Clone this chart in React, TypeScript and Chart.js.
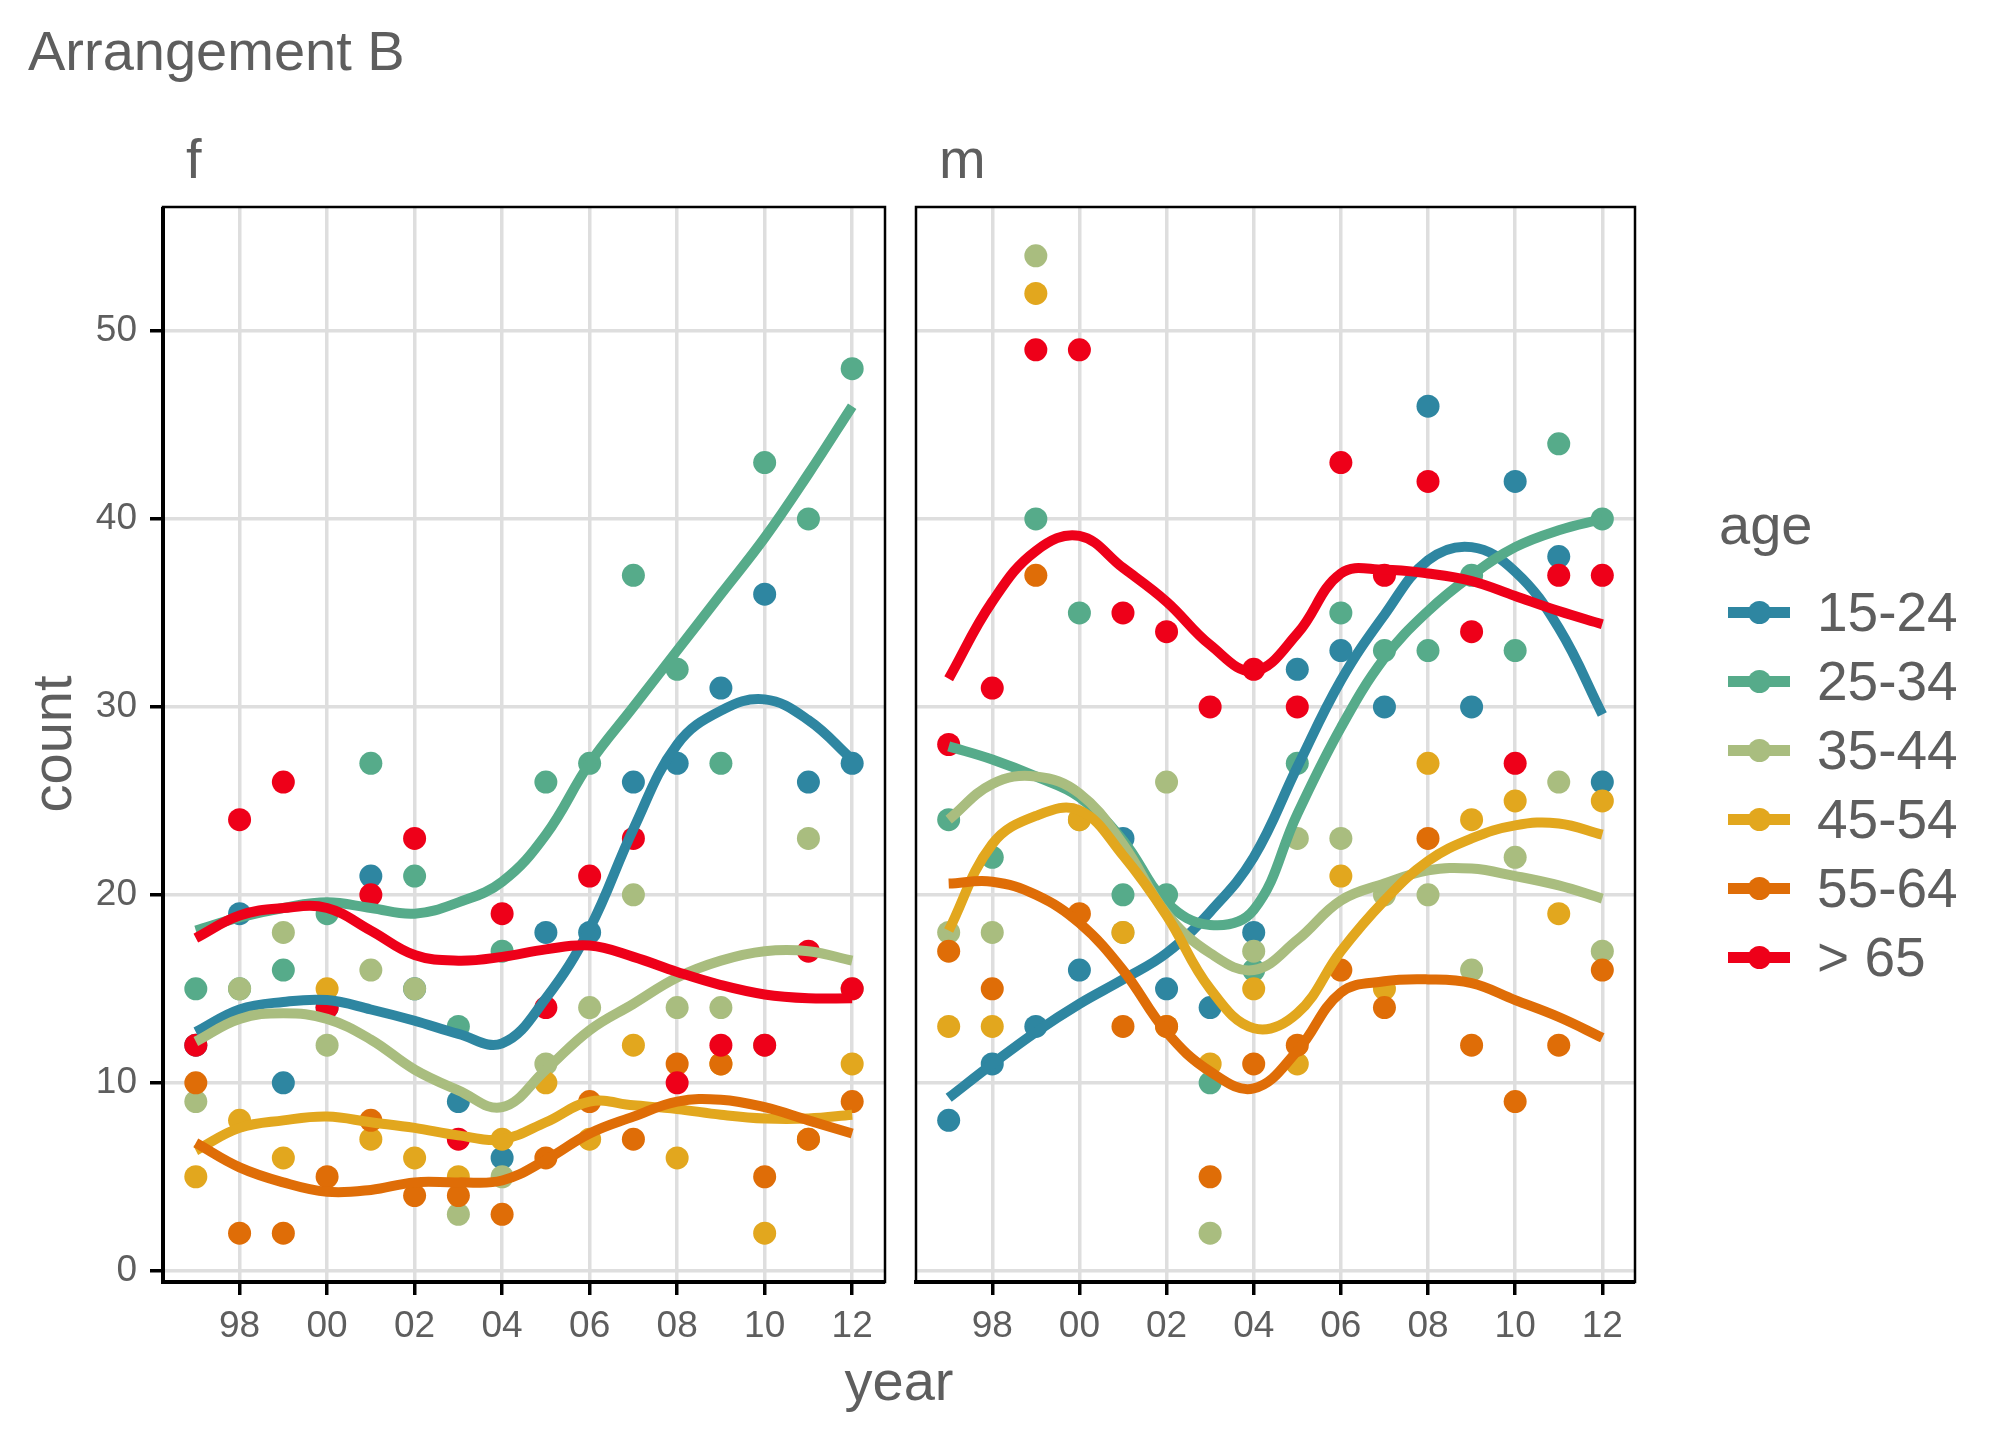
import React, { useEffect, useRef } from 'react';
import Chart from 'chart.js/auto';

// ---- data ----
const YEARS = [1997, 1998, 1999, 2000, 2001, 2002, 2003, 2004, 2005, 2006, 2007, 2008, 2009, 2010, 2011, 2012];
const X_TICKS = [1998, 2000, 2002, 2004, 2006, 2008, 2010, 2012];
const X_TICK_LABELS = ['98', '00', '02', '04', '06', '08', '10', '12'];
const Y_TICKS = [0, 10, 20, 30, 40, 50];
const AGE_GROUPS = ['15-24', '25-34', '35-44', '45-54', '55-64', '> 65'];
const COLORS = ['#2E86A1', '#56AB8A', '#A9BD7F', '#E2A71E', '#DF6D07', '#EE0019'];

// panel "f": observed counts
const F_15_24 = [12, 19, 10, 14, 21, 15, 9, 6, 18, 18, 26, 27, 31, 36, 26, 27];
const F_25_34 = [15, 15, 16, 19, 27, 21, 13, 17, 26, 27, 37, 32, 27, 43, 40, 48];
const F_35_44 = [9, 15, 18, 12, 16, 15, 3, 5, 11, 14, 20, 14, 14, 12, 23, 15];
const F_45_54 = [5, 8, 6, 15, 7, 6, 5, 7, 10, 7, 12, 6, 11, 2, 7, 11];
const F_55_64 = [10, 2, 2, 5, 8, 4, 4, 3, 6, 9, 7, 11, 11, 5, 7, 9];
const F_65 = [12, 24, 26, 14, 20, 23, 7, 19, 14, 21, 23, 10, 12, 12, 17, 15];

// panel "f": smoothed curves
const F_FIT_15_24 = [12.7, 13.9, 14.3, 14.4, 13.9, 13.3, 12.6, 12.1, 14.5, 18.2, 23.5, 28.0, 29.8, 30.4, 29.3, 27.2];
const F_FIT_25_34 = [18.1, 18.8, 19.3, 19.6, 19.3, 19.0, 19.6, 20.7, 23.2, 27.0, 30.0, 33.0, 36.0, 39.0, 42.4, 46.0];
const F_FIT_35_44 = [12.2, 13.4, 13.7, 13.4, 12.3, 10.7, 9.6, 8.7, 10.7, 12.8, 14.2, 15.6, 16.5, 17.0, 17.0, 16.5];
const F_FIT_45_54 = [6.4, 7.6, 8.0, 8.2, 7.9, 7.6, 7.2, 7.0, 7.9, 9.0, 8.8, 8.6, 8.3, 8.1, 8.1, 8.3];
const F_FIT_55_64 = [6.8, 5.5, 4.7, 4.2, 4.3, 4.7, 4.7, 4.8, 5.9, 7.3, 8.2, 9.0, 9.1, 8.7, 8.0, 7.3];
const F_FIT_65 = [17.7, 18.9, 19.3, 19.3, 18.1, 16.8, 16.5, 16.7, 17.1, 17.3, 16.7, 15.9, 15.2, 14.7, 14.5, 14.5];

// panel "m": observed counts
const M_15_24 = [8, 11, 13, 16, 23, 15, 14, 18, 32, 33, 30, 46, 30, 42, 38, 26];
const M_25_34 = [24, 22, 40, 35, 20, 20, 10, 16, 27, 35, 33, 33, 37, 33, 44, 40];
const M_35_44 = [18, 18, 54, 24, 18, 26, 2, 17, 23, 23, 20, 20, 16, 22, 26, 17];
const M_45_54 = [13, 13, 52, 24, 18, 13, 11, 15, 11, 21, 15, 27, 24, 25, 19, 25];
const M_55_64 = [17, 15, 37, 19, 13, 13, 5, 11, 12, 16, 14, 23, 12, 9, 12, 16];
const M_65 = [28, 31, 49, 49, 35, 34, 30, 32, 30, 43, 37, 42, 34, 27, 37, 37];

// panel "m": smoothed curves
const M_FIT_15_24 = [9.2, 11.0, 12.7, 14.2, 15.5, 16.9, 19.1, 22.0, 26.8, 31.4, 34.9, 37.8, 38.5, 37.2, 34.2, 29.6];
const M_FIT_25_34 = [27.9, 27.2, 26.3, 25.2, 22.9, 19.6, 18.4, 19.2, 24.3, 28.9, 32.6, 35.1, 37.0, 38.5, 39.4, 40.0];
const M_FIT_35_44 = [24.0, 25.9, 26.3, 25.4, 22.7, 19.0, 16.9, 16.0, 17.6, 19.7, 20.6, 21.3, 21.4, 21.0, 20.5, 19.8];
const M_FIT_45_54 = [18.1, 22.7, 24.2, 24.5, 22.1, 18.9, 15.0, 12.9, 13.7, 17.0, 19.7, 21.8, 23.0, 23.7, 23.8, 23.2];
const M_FIT_55_64 = [20.6, 20.7, 20.0, 18.5, 16.0, 12.7, 10.6, 9.7, 11.7, 14.8, 15.4, 15.5, 15.3, 14.4, 13.5, 12.4];
const M_FIT_65 = [31.5, 35.6, 38.3, 39.1, 37.4, 35.6, 33.3, 31.9, 33.9, 37.1, 37.3, 37.1, 36.7, 35.9, 35.1, 34.4];

const FONT = '"Liberation Sans", Arial, Helvetica, sans-serif';
const TEXT = '#5e5e5e';
const PAGE_H = 1440;

// frame around the panel: thin border, heavier axis lines
const framePlugin = (leftAxis: boolean) => ({
  id: 'panelFrame',
  afterDraw(chart: any) {
    const { ctx, chartArea: a } = chart;
    ctx.save();
    ctx.strokeStyle = '#000';
    ctx.lineWidth = 2.5;
    ctx.strokeRect(a.left, a.top, a.right - a.left, a.bottom - a.top);
    ctx.lineWidth = 4;
    ctx.beginPath();
    ctx.moveTo(a.left - 2, a.bottom);
    ctx.lineTo(a.right, a.bottom);
    if (leftAxis) {
      ctx.moveTo(a.left, a.top);
      ctx.lineTo(a.left, a.bottom + 2);
    }
    ctx.stroke();
    ctx.restore();
  },
});

interface PanelProps {
  points: number[][];
  fits: number[][];
  left: number;
  width: number;
  axisWidth: number; // space left of the plot area inside the canvas
  padRight: number;
  showYLabels: boolean;
}

const Panel: React.FC<PanelProps> = ({ points, fits, left, width, axisWidth, padRight, showYLabels }) => {
  const canvasRef = useRef<HTMLCanvasElement>(null);

  useEffect(() => {
    if (!canvasRef.current) return;
    const datasets: any[] = [];
    // smooth lines on top of the points, later age groups on top
    fits.forEach((fit, g) => {
      datasets.push({
        label: AGE_GROUPS[g] + ' smooth',
        data: YEARS.map((x, i) => ({ x, y: fit[i] })),
        showLine: true,
        borderColor: COLORS[g],
        backgroundColor: COLORS[g],
        borderWidth: 10,
        pointRadius: 0,
        tension: 0.4,
        fill: false,
        order: 5 - g,
      });
    });
    points.forEach((vals, g) => {
      datasets.push({
        label: AGE_GROUPS[g],
        data: YEARS.map((x, i) => ({ x, y: vals[i] })),
        showLine: false,
        backgroundColor: COLORS[g],
        borderWidth: 0,
        pointRadius: 11.5,
        order: 11 - g,
      });
    });

    const chart = new Chart(canvasRef.current, {
      type: 'scatter',
      data: { datasets },
      options: {
        animation: false,
        responsive: false,
        maintainAspectRatio: false,
        events: [],
        layout: { padding: { top: 207, right: padRight, bottom: 0, left: 0 } },
        plugins: {
          legend: { display: false },
          tooltip: { enabled: false },
          title: { display: false },
        },
        scales: {
          x: {
            type: 'linear',
            min: 1996.25,
            max: 2012.75,
            afterBuildTicks: (s: any) => {
              s.ticks = X_TICKS.map((v) => ({ value: v }));
            },
            afterFit: (s: any) => {
              s.height = PAGE_H - 1282;
            },
            ticks: {
              autoSkip: false,
              maxRotation: 0,
              padding: 10,
              color: TEXT,
              font: { family: FONT, size: 37 },
              callback: (v: any) => X_TICK_LABELS[X_TICKS.indexOf(Number(v))],
            },
            grid: {
              color: '#DEDEDE',
              lineWidth: 3.5,
              drawTicks: true,
              tickLength: 13,
              tickColor: '#000',
              tickWidth: 3.5,
            },
            border: { display: false },
          },
          y: {
            type: 'linear',
            min: -0.6,
            max: 56.6,
            afterBuildTicks: (s: any) => {
              s.ticks = Y_TICKS.map((v) => ({ value: v }));
            },
            afterFit: (s: any) => {
              s.width = axisWidth;
            },
            ticks: {
              display: showYLabels,
              padding: 13,
              color: TEXT,
              font: { family: FONT, size: 37 },
            },
            grid: {
              color: '#DEDEDE',
              lineWidth: 3.5,
              drawTicks: showYLabels,
              tickLength: 13,
              tickColor: '#000',
              tickWidth: 3.5,
            },
            border: { display: false },
          },
        },
      },
      plugins: [framePlugin(showYLabels)],
    });

    return () => {
      chart.destroy();
    };
  }, [points, fits, axisWidth, padRight, showYLabels]);

  return (
    <canvas
      ref={canvasRef}
      width={width}
      height={PAGE_H}
      style={{ position: 'absolute', left, top: 0, width, height: PAGE_H }}
    />
  );
};

// place text by its baseline
const Label: React.FC<{ text: string; x: number; baseline: number; size: number; align?: 'left' | 'center' }> = ({
  text,
  x,
  baseline,
  size,
  align = 'left',
}) => (
  <div
    style={{
      position: 'absolute',
      left: align === 'center' ? x - 300 : x,
      width: align === 'center' ? 600 : undefined,
      top: baseline - 0.8465 * size,
      fontSize: size,
      lineHeight: `${size}px`,
      textAlign: align,
      whiteSpace: 'nowrap',
      color: TEXT,
    }}
  >
    {text}
  </div>
);

const LEGEND_ROWS = [612, 681, 750, 819, 888, 957];

const App: React.FC = () => {
  const fPoints = [F_15_24, F_25_34, F_35_44, F_45_54, F_55_64, F_65];
  const fFits = [F_FIT_15_24, F_FIT_25_34, F_FIT_35_44, F_FIT_45_54, F_FIT_55_64, F_FIT_65];
  const mPoints = [M_15_24, M_25_34, M_35_44, M_45_54, M_55_64, M_65];
  const mFits = [M_FIT_15_24, M_FIT_25_34, M_FIT_35_44, M_FIT_45_54, M_FIT_55_64, M_FIT_65];

  return (
    <div
      style={{
        position: 'absolute',
        left: 0,
        top: 0,
        width: 2016,
        height: PAGE_H,
        background: '#fff',
        fontFamily: FONT,
        overflow: 'hidden',
      }}
    >
      <Panel points={fPoints} fits={fFits} left={0} width={900} axisWidth={163} padRight={15} showYLabels={true} />
      <Panel points={mPoints} fits={mFits} left={900} width={760} axisWidth={16} padRight={25} showYLabels={false} />

      <Label text="Arrangement B" x={28} baseline={70} size={56} />
      <Label text="f" x={186} baseline={178} size={56} />
      <Label text="m" x={939} baseline={178} size={56} />
      <Label text="year" x={899} baseline={1400} size={56} align="center" />

      <div
        style={{
          position: 'absolute',
          left: 52 - 200,
          top: 744 - 28,
          width: 400,
          height: 56,
          fontSize: 56,
          lineHeight: '56px',
          textAlign: 'center',
          color: TEXT,
          transform: 'rotate(-90deg)',
          whiteSpace: 'nowrap',
        }}
      >
        count
      </div>

      <Label text="age" x={1719} baseline={544} size={56} />
      {AGE_GROUPS.map((g, i) => (
        <React.Fragment key={g}>
          <div
            style={{
              position: 'absolute',
              left: 1728,
              top: LEGEND_ROWS[i] - 5.5,
              width: 62,
              height: 11,
              background: COLORS[i],
            }}
          />
          <div
            style={{
              position: 'absolute',
              left: 1759 - 11.5,
              top: LEGEND_ROWS[i] - 11.5,
              width: 23,
              height: 23,
              borderRadius: '50%',
              background: COLORS[i],
            }}
          />
          <Label text={g} x={1817} baseline={LEGEND_ROWS[i] + 20} size={55} />
        </React.Fragment>
      ))}
    </div>
  );
};

export default App;
